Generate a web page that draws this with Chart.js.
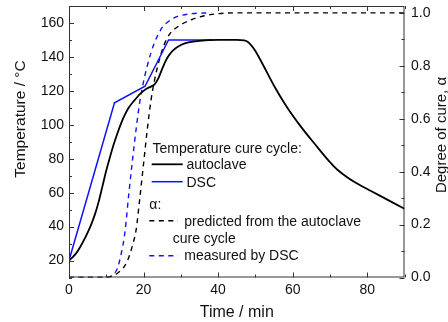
<!DOCTYPE html>
<html>
<head>
<meta charset="utf-8">
<script src="https://cdn.jsdelivr.net/npm/chart.js@4"></script>
<style>
  html, body { margin: 0; padding: 0; background: #fff; }
  #wrap { width: 448px; height: 322px; position: relative; }
</style>
</head>
<body>
<div id="wrap"><canvas id="cure"></canvas></div>
<script>
/* ---------- data ---------- */
const timeAuto = [0, 1, 2, 3, 4, 5, 6, 7, 8, 9, 10, 11, 12, 13, 14, 15, 16, 17, 18, 19, 20, 21, 22, 23, 24, 25, 26, 27, 28, 30, 32, 35, 40, 45, 47, 48, 49, 50, 52, 55, 58, 62, 66, 70, 72, 75, 78, 81, 84, 87, 90];
const tempAuto = [20, 22, 24.5, 28, 32, 36.5, 41.5, 47.5, 55, 64, 73, 81, 88.5, 95, 101, 106, 110, 113, 115.5, 118, 120, 121.5, 122.5, 124, 127.5, 133, 138, 141.5, 144, 147, 148.5, 149.5, 150, 150, 149.7, 148.8, 146.5, 143.5, 135.5, 123, 112, 99.5, 88.5, 78, 73.5, 68.5, 64.5, 61, 57.5, 54, 50.5];

const timeDsc = [0, 12.2, 20.4, 26.7, 38.5];
const tempDsc = [20, 113, 122.7, 150, 150];

const timeAlphaPred = [0, 10, 11, 12, 13, 14, 15, 16, 17, 18, 19, 20, 21, 22, 23, 24, 25, 26, 27, 28, 30, 33, 36, 40, 45, 90];
const alphaPred     = [0, 0, 0.003, 0.008, 0.016, 0.028, 0.045, 0.075, 0.12, 0.18, 0.3, 0.43, 0.56, 0.67, 0.75, 0.81, 0.86, 0.895, 0.92, 0.935, 0.955, 0.975, 0.988, 0.997, 1.0, 1.0];

const timeAlphaDsc = [0, 10, 11, 12, 13, 14, 15, 16, 17, 18, 19, 20, 21, 22, 23, 24, 25, 26, 28, 30, 33, 38];
const alphaDsc     = [0, 0, 0.003, 0.012, 0.035, 0.09, 0.17, 0.31, 0.44, 0.56, 0.665, 0.74, 0.8, 0.85, 0.89, 0.92, 0.945, 0.96, 0.98, 0.99, 0.997, 1.0];

const xTicks  = [0, 20, 40, 60, 80];
const yTicks  = [20, 40, 60, 80, 100, 120, 140, 160];
const y1Ticks = [0, 0.2, 0.4, 0.6, 0.8, 1.0];

const FONT = "'Liberation Sans', Arial, sans-serif";
const BLUE = '#1010ff';
const AXIS = '#333';

const pts = (xs, ys) => xs.map((x, i) => ({ x, y: ys[i] }));

/* ---------- frame, inward ticks, titles, legend ---------- */
const decorPlugin = {
  id: 'decor',
  afterDraw(chart) {
    const { ctx, chartArea: a, scales } = chart;
    const { x, y, y1 } = scales;
    ctx.save();
    ctx.strokeStyle = AXIS;
    ctx.lineWidth = 1;
    ctx.strokeRect(a.left + 0.5, a.top + 0.5, a.right - a.left - 1, a.bottom - a.top - 1);

    ctx.beginPath();
    for (let v = 0; v <= 90; v += 10) {
      const px = Math.round(x.getPixelForValue(v)) + 0.5;
      const len = v % 20 === 0 ? 5 : 3;
      ctx.moveTo(px, a.bottom); ctx.lineTo(px, a.bottom - len);
      ctx.moveTo(px, a.top);    ctx.lineTo(px, a.top + len);
    }
    for (let v = 10; v <= 170; v += 10) {
      const py = Math.round(y.getPixelForValue(v)) + 0.5;
      const len = v % 20 === 0 ? 5 : 3;
      ctx.moveTo(a.left, py); ctx.lineTo(a.left + len, py);
    }
    for (let i = 0; i <= 10; i++) {
      const py = Math.round(y1.getPixelForValue(i / 10)) + 0.5;
      const len = i % 2 === 0 ? 5 : 3;
      ctx.moveTo(a.right, py); ctx.lineTo(a.right - len, py);
    }
    ctx.stroke();

    // axis titles
    ctx.fillStyle = '#111';
    ctx.textAlign = 'center';
    ctx.textBaseline = 'alphabetic';
    ctx.font = '16px ' + FONT;
    ctx.fillText('Time / min', (a.left + a.right) / 2, 316.5);

    ctx.save();
    ctx.translate(25, 119);
    ctx.rotate(-Math.PI / 2);
    ctx.font = '15.5px ' + FONT;
    ctx.fillText('Temperature / °C', 0, 0);
    ctx.restore();

    ctx.save();
    ctx.translate(446, 135);
    ctx.rotate(-Math.PI / 2);
    ctx.font = '15px ' + FONT;
    ctx.fillText('Degree of cure, α', 0, 0);
    ctx.restore();

    // legend
    ctx.textAlign = 'left';
    ctx.font = '14px ' + FONT;
    ctx.fillText('Temperature cure cycle:', 152.5, 152.7);
    ctx.fillText('autoclave', 186.5, 169.3);
    ctx.fillText('DSC', 186.5, 186.7);
    ctx.fillText('α:', 149.3, 209.3);
    ctx.fillText('predicted from the autoclave', 184.3, 225.7);
    ctx.fillText('cure cycle', 172.7, 242.7);
    ctx.fillText('measured by DSC', 184.3, 260);

    const seg = (x0, x1, yy, color, w, dash) => {
      ctx.beginPath();
      ctx.strokeStyle = color;
      ctx.lineWidth = w;
      ctx.setLineDash(dash);
      ctx.moveTo(x0, yy); ctx.lineTo(x1, yy);
      ctx.stroke();
    };
    seg(151.7, 182.7, 164.3, '#000', 1.8, []);
    seg(151.7, 182.7, 181.7, BLUE, 1.5, []);
    seg(149.3, 178, 220.7, '#000', 1.5, [5, 4.5]);
    seg(149.3, 178, 255.7, BLUE, 1.5, [5, 4.5]);
    ctx.restore();
  }
};

const tickFont = { family: FONT, size: 14 };

// no automatic label overflow padding: the frame is placed by hand
const noPadV = s => { s.paddingTop = 0; s.paddingBottom = 0; };
const noPadH = s => { s.paddingLeft = 0; s.paddingRight = 0; };

new Chart(document.getElementById('cure'), {
  type: 'line',
  data: {
    datasets: [
      {
        label: 'autoclave',
        data: pts(timeAuto, tempAuto),
        yAxisID: 'y',
        borderColor: '#000',
        borderWidth: 1.8,
        cubicInterpolationMode: 'monotone',
        pointRadius: 0,
        order: 1
      },
      {
        label: 'DSC',
        data: pts(timeDsc, tempDsc),
        yAxisID: 'y',
        borderColor: BLUE,
        borderWidth: 1.5,
        tension: 0,
        pointRadius: 0,
        order: 2
      },
      {
        label: 'predicted from the autoclave cure cycle',
        data: pts(timeAlphaPred, alphaPred),
        yAxisID: 'y1',
        borderColor: '#000',
        borderWidth: 1.4,
        borderDash: [5, 4.5],
        cubicInterpolationMode: 'monotone',
        pointRadius: 0,
        order: 3
      },
      {
        label: 'measured by DSC',
        data: pts(timeAlphaDsc, alphaDsc),
        yAxisID: 'y1',
        borderColor: BLUE,
        borderWidth: 1.4,
        borderDash: [5, 4.5],
        cubicInterpolationMode: 'monotone',
        pointRadius: 0,
        order: 4
      }
    ]
  },
  options: {
    responsive: true,
    maintainAspectRatio: false,
    animation: false,
    layout: { padding: { top: 6, left: 0, right: 0, bottom: 0 } },
    plugins: { legend: { display: false }, tooltip: { enabled: false } },
    scales: {
      x: {
        type: 'linear',
        min: 0, max: 90,
        afterBuildTicks: s => { s.ticks = xTicks.map(v => ({ value: v })); },
        afterFit: s => { s.height = 44.5; noPadH(s); },
        ticks: { color: '#111', font: tickFont, padding: 4, maxRotation: 0 },
        grid: { display: false, drawTicks: false },
        border: { display: false }
      },
      y: {
        position: 'left',
        min: 10, max: 170,
        afterBuildTicks: s => { s.ticks = yTicks.map(v => ({ value: v })); },
        afterFit: s => { s.width = 69; noPadV(s); },
        ticks: { color: '#111', font: tickFont, padding: 5 },
        grid: { display: false, drawTicks: false },
        border: { display: false }
      },
      y1: {
        position: 'right',
        min: 0, max: 1.026,
        afterBuildTicks: s => { s.ticks = y1Ticks.map(v => ({ value: v })); },
        afterFit: s => { s.width = 43.5; noPadV(s); },
        ticks: { color: '#111', font: tickFont, padding: 6.5, callback: v => v.toFixed(1) },
        grid: { display: false, drawTicks: false },
        border: { display: false }
      }
    }
  },
  plugins: [decorPlugin]
});
</script>
</body>
</html>
